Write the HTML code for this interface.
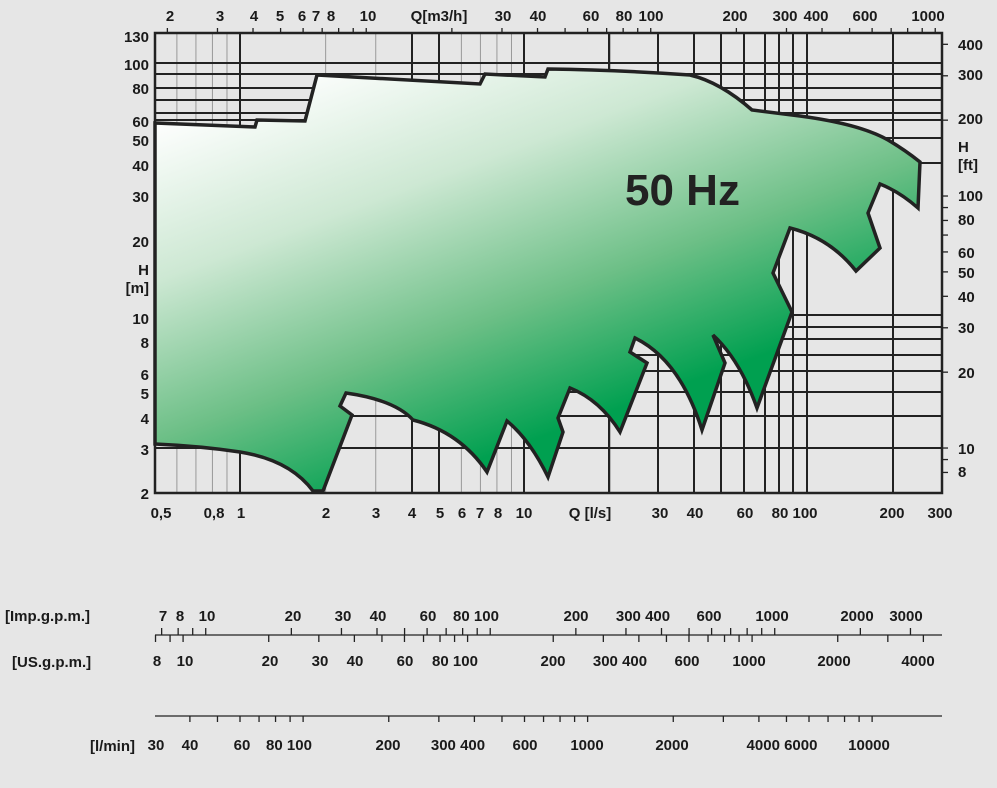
<!DOCTYPE html>
<html><head><meta charset="utf-8"><style>
html,body{margin:0;padding:0;background:#e6e6e6;}
svg{display:block;}
text{font-family:"Liberation Sans",Arial,sans-serif;font-weight:bold;fill:#1a1a1a;font-size:15px;}
</style></head><body>
<svg id="s" width="997" height="788" viewBox="0 0 997 788" xmlns="http://www.w3.org/2000/svg">
<defs>
<linearGradient id="g" gradientUnits="userSpaceOnUse" x1="155" y1="120" x2="305" y2="525">
<stop offset="0" stop-color="#ffffff"/>
<stop offset="0.35" stop-color="#cde8d3"/>
<stop offset="0.7" stop-color="#6cbf86"/>
<stop offset="1" stop-color="#00a050"/>
</linearGradient>
</defs>
<rect width="997" height="788" fill="#e6e6e6"/>
<g id="grid"></g>
<path d="M155,123 L255,127 L257,120 L305,121 L317,75 L480,84 L485,74 L545,77 L548,69 Q620,70 690,75 Q720,82 752,110 L800,116 Q860,124 888,140 Q905,150 920,162 L918,208 Q900,192 880,184 L868,213 L880,248 L856,271 Q830,238 790,228 L773,273 L792,312 L757,408 Q740,360 713,335 L725,363 L702,430 Q680,360 635,338 L630,352 L647,363 L620,432 Q600,400 570,388 L558,418 L563,432 L548,477 Q530,440 507,421 L487,472 Q460,432 413,420 Q395,400 346,393 L340,406 L352,415 L323,491 L313,491 Q290,460 240,452 Q200,446 155,444 Z" fill="url(#g)" stroke="#222" stroke-width="3.5" stroke-linejoin="miter"/>
<rect x="155" y="33" width="787" height="460" fill="none" stroke="#222" stroke-width="2.5"/>
<g id="ticks" stroke="#222" stroke-width="1.3"></g>
<text x="625" y="205" style="font-size:44px;fill:#222">50 Hz</text>
<g text-anchor="middle">
<text x="170" y="21">2</text><text x="220" y="21">3</text><text x="254" y="21">4</text><text x="280" y="21">5</text><text x="302" y="21">6</text><text x="316" y="21">7</text><text x="331" y="21">8</text><text x="368" y="21">10</text><text x="439" y="21">Q[m3/h]</text><text x="503" y="21">30</text><text x="538" y="21">40</text><text x="591" y="21">60</text><text x="624" y="21">80</text><text x="651" y="21">100</text><text x="735" y="21">200</text><text x="785" y="21">300</text><text x="816" y="21">400</text><text x="865" y="21">600</text><text x="928" y="21">1000</text>
<text x="161" y="518">0,5</text><text x="214" y="518">0,8</text><text x="241" y="518">1</text><text x="326" y="518">2</text><text x="376" y="518">3</text><text x="412" y="518">4</text><text x="440" y="518">5</text><text x="462" y="518">6</text><text x="480" y="518">7</text><text x="498" y="518">8</text><text x="524" y="518">10</text><text x="590" y="518">Q [l/s]</text><text x="660" y="518">30</text><text x="695" y="518">40</text><text x="745" y="518">60</text><text x="780" y="518">80</text><text x="805" y="518">100</text><text x="892" y="518">200</text><text x="940" y="518">300</text>
</g>
<g text-anchor="end">
<text x="149" y="42">130</text><text x="149" y="70">100</text><text x="149" y="94">80</text><text x="149" y="127">60</text><text x="149" y="146">50</text><text x="149" y="171">40</text><text x="149" y="202">30</text><text x="149" y="247">20</text><text x="149" y="275">H</text><text x="149" y="293">[m]</text><text x="149" y="324">10</text><text x="149" y="348">8</text><text x="149" y="380">6</text><text x="149" y="399">5</text><text x="149" y="424">4</text><text x="149" y="455">3</text><text x="149" y="499">2</text>
</g>
<g>
<text x="958" y="50">400</text><text x="958" y="80">300</text><text x="958" y="124">200</text><text x="958" y="152">H</text><text x="958" y="170">[ft]</text><text x="958" y="201">100</text><text x="958" y="225">80</text><text x="958" y="258">60</text><text x="958" y="278">50</text><text x="958" y="302">40</text><text x="958" y="333">30</text><text x="958" y="378">20</text><text x="958" y="454">10</text><text x="958" y="477">8</text>
</g>
<g style="font-size:14px">
<text x="5" y="621">[Imp.g.p.m.]</text><text x="12" y="667">[US.g.p.m.]</text><text x="90" y="751">[l/min]</text>
</g>
<g text-anchor="middle" style="font-size:14px">
<text x="163" y="621">7</text><text x="180" y="621">8</text><text x="207" y="621">10</text><text x="293" y="621">20</text><text x="343" y="621">30</text><text x="378" y="621">40</text><text x="428" y="621">60</text><text x="476" y="621">80 100</text><text x="576" y="621">200</text><text x="643" y="621">300 400</text><text x="709" y="621">600</text><text x="772" y="621">1000</text><text x="857" y="621">2000</text><text x="906" y="621">3000</text>
<text x="157" y="666">8</text><text x="185" y="666">10</text><text x="270" y="666">20</text><text x="320" y="666">30</text><text x="355" y="666">40</text><text x="405" y="666">60</text><text x="455" y="666">80 100</text><text x="553" y="666">200</text><text x="620" y="666">300 400</text><text x="687" y="666">600</text><text x="749" y="666">1000</text><text x="834" y="666">2000</text><text x="918" y="666">4000</text>
<text x="156" y="750">30</text><text x="190" y="750">40</text><text x="242" y="750">60</text><text x="289" y="750">80 100</text><text x="388" y="750">200</text><text x="458" y="750">300 400</text><text x="525" y="750">600</text><text x="587" y="750">1000</text><text x="672" y="750">2000</text><text x="782" y="750">4000 6000</text><text x="869" y="750">10000</text>
</g>
<line x1="155" y1="635" x2="942" y2="635" stroke="#222" stroke-width="1.3"/>
<line x1="155" y1="716" x2="942" y2="716" stroke="#222" stroke-width="1.3"/>
</svg>
<script>
(function(){
var NS="http://www.w3.org/2000/svg";
var grid=document.getElementById("grid"),tk=document.getElementById("ticks");
function L(p,x1,y1,x2,y2,c,w){var l=document.createElementNS(NS,"line");l.setAttribute("x1",x1);l.setAttribute("y1",y1);l.setAttribute("x2",x2);l.setAttribute("y2",y2);if(c)l.setAttribute("stroke",c);if(w)l.setAttribute("stroke-width",w);p.appendChild(l);}
function X(q){return 240+284.5*Math.log10(q);}
var gray=[0.6,0.7,0.8,0.9,2,3,6,7,8,9,20];
gray.forEach(function(q){L(grid,X(q),33,X(q),493,"#999",1);});
[240,412,439,524,609,658,694,721,744,765,779,793,807,893].forEach(function(x){L(grid,x,33,x,493,"#222",2);});
[63,74,88,100,113,120,138,163,315,327,339,355,371,392,416,448].forEach(function(y){L(grid,155,y,942,y,"#222",2);});
for(var v=2;v<=1000;){var x=X(v/3.6);if(x>155&&x<942)L(tk,x,33,x,28);
 v+= v<10?1:(v<100?10:100);}
function Yft(f){var h=f*0.3048;return 318-252*Math.log10(h/10);}
for(var f=8;f<=400;){var y=Yft(f);if(y>33&&y<493)L(tk,942,y,948,y);f+= f<10?1:(f<100?10:100);}
for(var v=7;v<=4000;){var x=X(v*0.07577);if(x>=155&&x<=942)L(tk,x,635,x,628);v+= v<10?1:(v<100?10:(v<1000?100:1000));}
for(var v=8;v<=5000;){var x=X(v*0.06309);if(x>=155&&x<=942)L(tk,x,635,x,642);v+= v<10?1:(v<100?10:(v<1000?100:1000));}
for(var v=30;v<=20000;){var x=X(v/60);if(x>=155&&x<=942)L(tk,x,716,x,722);v+= v<100?10:(v<1000?100:(v<10000?1000:10000));}
})();
</script>
</body></html>
